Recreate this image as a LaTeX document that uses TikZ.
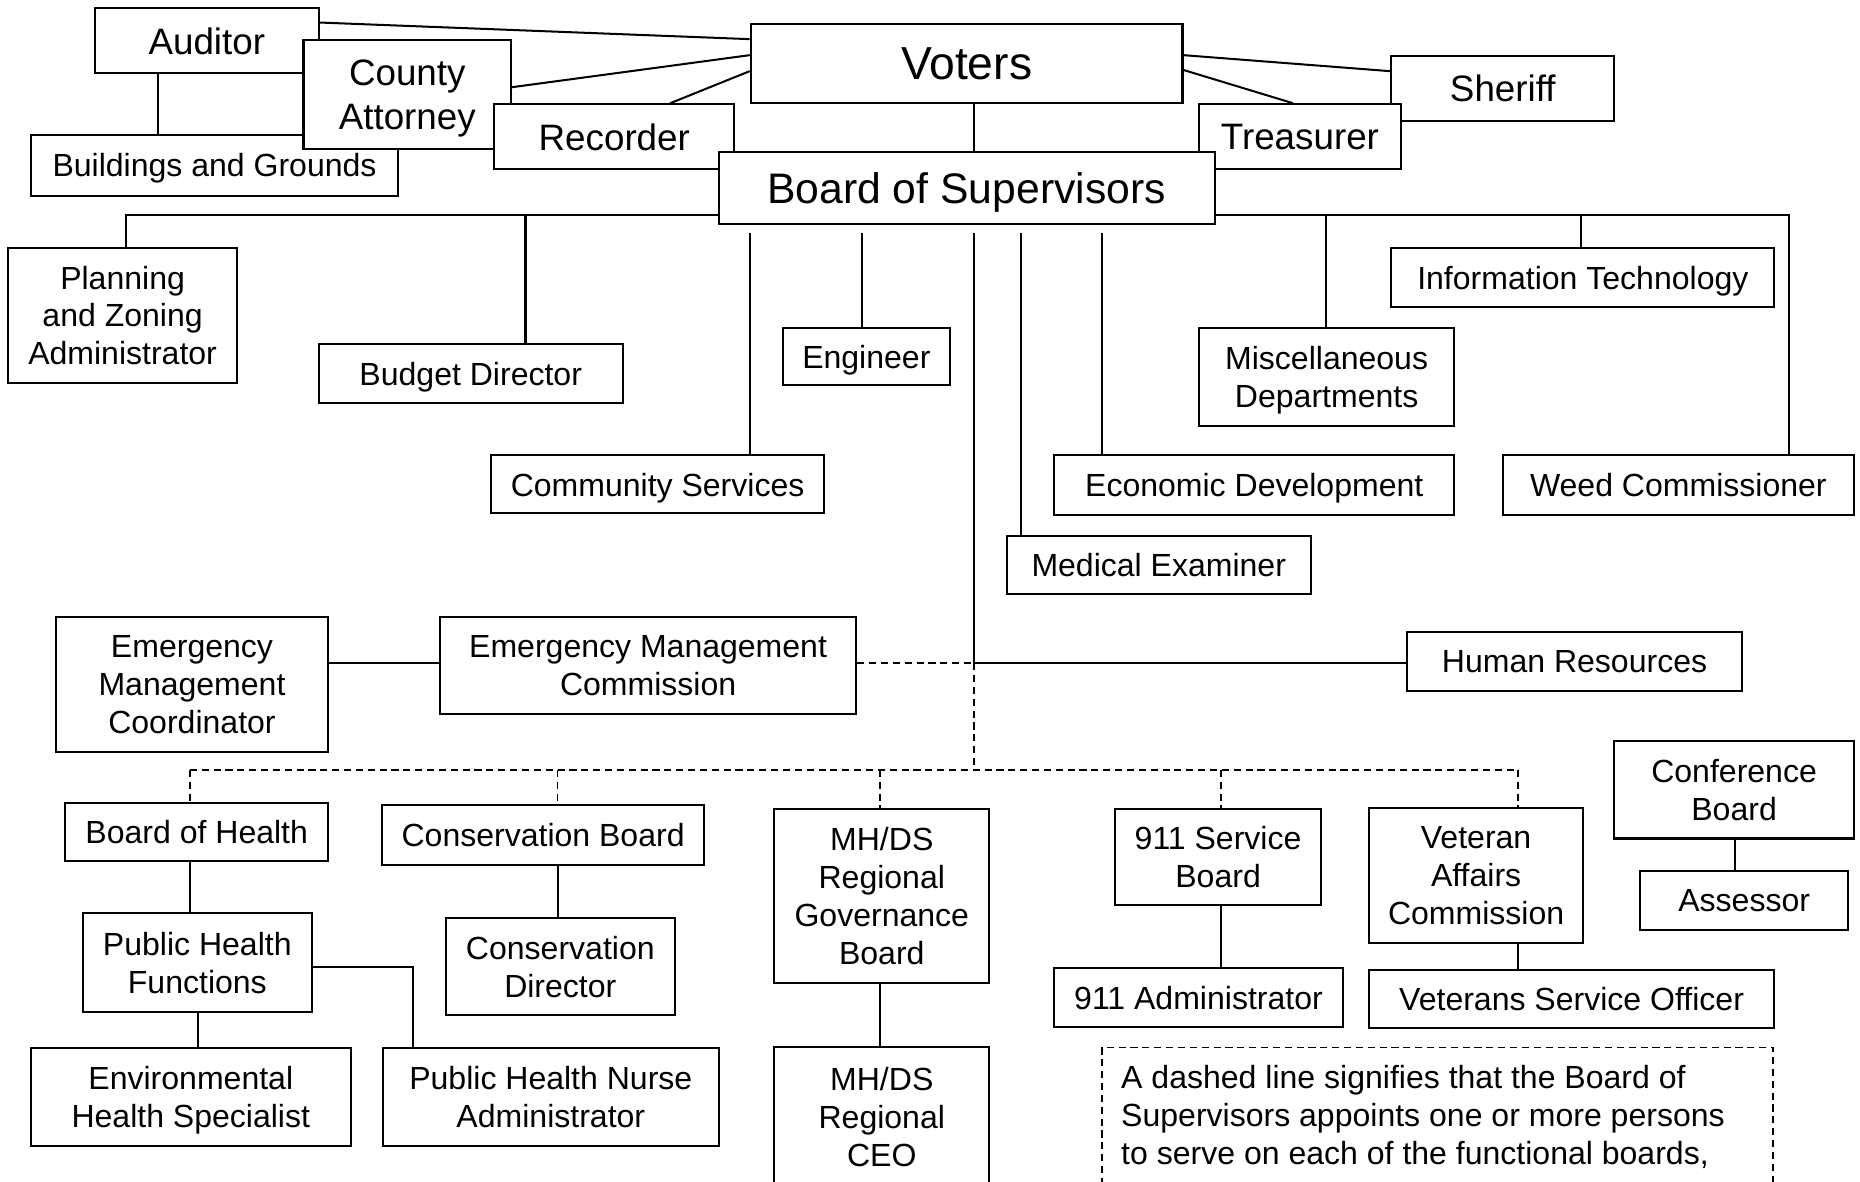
\documentclass[tikz,border=0pt]{standalone}
\usepackage{fontspec}
\setmainfont{Liberation Sans}
\usetikzlibrary{backgrounds}
\begin{document}
\begin{tikzpicture}[x=1pt,y=-1pt,
  box/.style={draw, line width=1.7pt, fill=white, inner sep=0pt, text depth=0pt, align=center, anchor=north west, font=\fontsize{27}{32}\selectfont},
  big/.style={box, font=\fontsize{31}{37}\selectfont},
  conn/.style={line width=1.7pt},
  dconn/.style={line width=1.6pt, dash pattern=on 6pt off 4pt}]
\useasboundingbox (0,0) rectangle (1568,996);

% top tier
\node[big, minimum width=189, minimum height=55] (auditor) at (79,6) {Auditor};
\node[box, minimum width=310, minimum height=51] (bldg) at (25,113) {Buildings and Grounds};
\node[big, minimum width=175, minimum height=92] (county) at (255,33) {County\\Attorney};
\node[big, minimum width=202, minimum height=55] (recorder) at (416,87) {Recorder};
\node[big, minimum width=188, minimum height=55] (sheriff) at (1172,46) {Sheriff};
\node[big, minimum width=170, minimum height=55] (treasurer) at (1010,87) {Treasurer};
\node[box, font=\fontsize{39}{46}\selectfont, minimum width=364, minimum height=67] (voters) at (632,19) {Voters};
\node[box, font=\fontsize{36}{42}\selectfont, minimum width=418, minimum height=61] (board) at (605,127) {Board of Supervisors};

% second tier
\node[box, minimum width=193, minimum height=114] (plan) at (6,208) {Planning\\and Zoning\\Administrator};
\node[box, minimum width=256, minimum height=50] (budget) at (268,289) {Budget Director};
\node[box, minimum width=281, minimum height=49] (comm) at (413,383) {Community Services};
\node[box, minimum width=141, minimum height=48] (eng) at (659,276) {Engineer};
\node[box, minimum width=256, minimum height=49] (med) at (848,451) {Medical Examiner};
\node[box, minimum width=337, minimum height=50] (econ) at (888,383) {Economic Development};
\node[box, minimum width=215, minimum height=82] (misc) at (1010,276) {Miscellaneous\\Departments};
\node[box, minimum width=323, minimum height=50] (it) at (1172,208) {Information Technology};
\node[box, minimum width=296, minimum height=50] (weed) at (1266,383) {Weed Commissioner};

% emergency row
\node[box, minimum width=230, minimum height=114] (emcoord) at (46,519) {Emergency\\Management\\Coordinator};
\node[box, minimum width=351, minimum height=82] (emc) at (370,519) {Emergency Management\\Commission};
\node[box, minimum width=283, minimum height=50] (hr) at (1185,532) {Human Resources};

% functional boards
\node[box, minimum width=222, minimum height=49] (boh) at (54,676) {Board of Health};
\node[box, minimum width=193, minimum height=83] (phf) at (69,769) {Public Health\\Functions};
\node[box, minimum width=270, minimum height=82] (ehs) at (25,883) {Environmental\\Health Specialist};
\node[box, minimum width=283, minimum height=82] (phn) at (322,883) {Public Health Nurse\\Administrator};
\node[box, minimum width=272, minimum height=50] (cb) at (321,678) {Conservation Board};
\node[box, minimum width=193, minimum height=82] (cd) at (375,773) {Conservation\\Director};
\node[box, minimum width=181, minimum height=147] (mhgov) at (652,681) {MH/DS\\Regional\\Governance\\Board};
\node[box, minimum width=181, minimum height=118] (mhceo) at (652,882) {MH/DS\\Regional\\CEO};
\node[box, minimum width=174, minimum height=81] (b911) at (939,681) {911 Service\\Board};
\node[box, minimum width=243, minimum height=50] (a911) at (888,815) {911 Administrator};
\node[box, minimum width=181, minimum height=114] (vac) at (1153,680) {Veteran\\Affairs\\Commission};
\node[box, minimum width=342, minimum height=49] (vso) at (1153,817) {Veterans Service Officer};
\node[box, minimum width=202, minimum height=82] (conf) at (1360,624) {Conference\\Board};
\node[box, minimum width=175, minimum height=50] (assr) at (1382,733) {Assessor};

% note
\draw[dconn] (929,883) rectangle (1495,1012);
\node[anchor=north west, inner sep=0pt, align=left, font=\fontsize{27}{32}\selectfont] (note) at (945,898)
  {A dashed line signifies that the Board of\\Supervisors appoints one or more persons\\to serve on each of the functional boards,};

\begin{pgfonlayer}{background}
\fill[white] (0,0) rectangle (1568,996);
% voters links
\draw[conn] (auditor.east |- 0,19) -- (voters.west |- 0,33);
\draw[conn] (county.east |- 0,73.5) -- (voters.west |- 0,46.5);
\draw[conn] (565,0 |- recorder.north) -- (voters.west |- 0,60);
\draw[conn] (voters.east |- 0,46.5) -- (sheriff.west |- 0,60);
\draw[conn] (voters.east |- 0,59) -- (1090,0 |- treasurer.north);
\draw[conn] (821,0 |- voters.south) -- (821,0 |- board.north);
\draw[conn] (133,0 |- auditor.south) -- (133,0 |- bldg.north);
% board bus
\draw[conn] (board.west |- 0,181) -- (106,181) -- (106,0 |- plan.north);
\draw[conn] (443,181) -- (443,0 |- budget.north);
\draw[conn] (board.east |- 0,181) -- (1508,181) -- (1508,0 |- weed.north);
\draw[conn] (1118,181) -- (1118,0 |- misc.north);
\draw[conn] (1333,181) -- (1333,0 |- it.north);
\draw[conn] (632,196) -- (632,0 |- comm.north);
\draw[conn] (727,196) -- (727,0 |- eng.north);
\draw[conn] (861,196) -- (861,0 |- med.north);
\draw[conn] (929,196) -- (929,0 |- econ.north);
\draw[conn] (821,196) -- (821,559) -- (hr.west |- 0,559);
% emergency
\draw[conn] (emcoord.east |- 0,559) -- (emc.west |- 0,559);
\draw[dconn] (emc.east |- 0,559) -- (821,559);
% functional boards (dashed)
\draw[dconn] (821,559) -- (821,649);
\draw[dconn] (160,649) -- (1280,649);
\draw[dconn] (160,649) -- (160,0 |- boh.north);
\draw[dconn] (470,649) -- (470,0 |- cb.north);
\draw[dconn] (742,649) -- (742,0 |- mhgov.north);
\draw[dconn] (1029,649) -- (1029,0 |- b911.north);
\draw[dconn] (1280,649) -- (1280,0 |- vac.north);
% sub-links
\draw[conn] (160,0 |- boh.south) -- (160,0 |- phf.north);
\draw[conn] (167,0 |- phf.south) -- (167,0 |- ehs.north);
\draw[conn] (phf.east |- 0,815) -- (348,815) -- (348,0 |- phn.north);
\draw[conn] (470,0 |- cb.south) -- (470,0 |- cd.north);
\draw[conn] (742,0 |- mhgov.south) -- (742,0 |- mhceo.north);
\draw[conn] (1029,0 |- b911.south) -- (1029,0 |- a911.north);
\draw[conn] (1280,0 |- vac.south) -- (1280,0 |- vso.north);
\draw[conn] (1463,0 |- conf.south) -- (1463,0 |- assr.north);
\end{pgfonlayer}
\end{tikzpicture}
\end{document}
